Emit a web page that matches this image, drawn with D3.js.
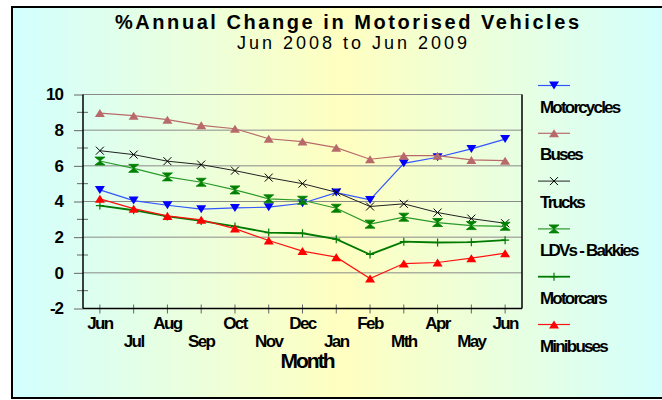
<!DOCTYPE html>
<html>
<head>
<meta charset="utf-8">
<script src="https://d3js.org/d3.v7.min.js"></script>
<style>
body { margin:0; padding:0; background:#fff; }
text { font-family: "Liberation Sans", Arial, sans-serif; font-weight:bold; fill:#000; }
</style>
</head>
<body>
<div id="chart"></div>
<script>
var months = ["Jun","Jul","Aug","Sep","Oct","Nov","Dec","Jan","Feb","Mth","Apr","May","Jun "];
var yTicks = [-2,0,2,4,6,8,10];

var motorcycles = [4.65,4.05,3.79,3.57,3.64,3.68,3.9,4.5,4.09,6.14,6.48,6.95,7.5];
var buses       = [8.96,8.81,8.59,8.27,8.08,7.52,7.36,7.02,6.37,6.57,6.57,6.33,6.29];
var trucks      = [6.85,6.63,6.26,6.07,5.73,5.34,5.0,4.52,3.72,3.87,3.38,3.04,2.78];
var ldvs        = [6.27,5.86,5.38,5.08,4.65,4.15,4.07,3.62,2.73,3.12,2.82,2.65,2.61];
var motorcars   = [3.77,3.51,3.16,2.91,2.6,2.26,2.22,1.89,1.03,1.75,1.7,1.72,1.83];
var minibuses   = [4.15,3.6,3.19,2.97,2.48,1.81,1.22,0.88,-0.32,0.52,0.58,0.82,1.1];

var seriesNames = ["Motorcycles","Buses","Trucks","LDVs - Bakkies","Motorcars","Minibuses"];
var seriesVals = [motorcycles,buses,trucks,ldvs,motorcars,minibuses];
var lineCols = ["#3355ff","#b86a6a","#222222","#2a9a2a","#007a00","#ff1010"];
var markCols = ["#0000ff","#b86a6a","#000000","#008000","#007a00","#ff0000"];
var lineW = [1.2,1.2,1,1.2,1.8,1.2];
var markers = ["down","up","x","hour","plus","up"];

function drawMarker(g, type, col) {
    if (type == "down") {
        g.append("path").attr("d","M-5,-4L5,-4L0,4Z").attr("fill",col);
    } else if (type == "up") {
        g.append("path").attr("d","M-5,4L5,4L0,-4Z").attr("fill",col);
    } else if (type == "x") {
        g.append("path").attr("d","M-4,-4L4,4M-4,4L4,-4").attr("stroke",col).attr("stroke-width",1).attr("fill","none");
    } else if (type == "hour") {
        g.append("path").attr("d","M-5,-4L5,-4L0,0ZM-5,4L5,4L0,0Z").attr("fill",col).attr("stroke",col).attr("stroke-width",0.8);
    } else if (type == "plus") {
        g.append("path").attr("d","M-4,0L4,0M0,-4L0,4").attr("stroke",col).attr("stroke-width",1.2).attr("fill","none");
    }
}

function draw_chart() {
    var W = 662, H = 400;
    var svg = d3.select("#chart").append("svg").attr("width",W).attr("height",H);

    // background gradient cyan -> yellow -> cyan
    var grad = svg.append("defs").append("linearGradient").attr("id","bg")
        .attr("x1","0%").attr("x2","100%").attr("y1","0%").attr("y2","0%");
    grad.append("stop").attr("offset","0%").attr("stop-color","#d2ffff");
    grad.append("stop").attr("offset","50%").attr("stop-color","#ffffc0");
    grad.append("stop").attr("offset","100%").attr("stop-color","#d2ffff");

    svg.append("rect").attr("x",12).attr("y",7).attr("width",660).attr("height",391)
        .attr("fill","url(#bg)").attr("stroke","#000").attr("stroke-width",2);

    var pL = 83, pR = 522, pT = 94.5, pB = 308.5;

    var x = d3.scalePoint().domain(months).range([pL,pR]).padding(0.5);
    var y = d3.scaleLinear().domain([-2,10]).range([pB,pT]);

    // gridlines
    svg.append("g").selectAll("line").data(yTicks).enter().append("line")
        .attr("x1",pL).attr("x2",pR)
        .attr("y1",function(d){return y(d);}).attr("y2",function(d){return y(d);})
        .attr("stroke","#8a8a8a").attr("stroke-width",1);

    // y axis
    var yAxis = d3.axisLeft(y).tickValues(yTicks).tickSize(9).tickPadding(11)
        .tickFormat(function(d){return String(d);});
    var gy = svg.append("g").attr("transform","translate("+pL+",0)").call(yAxis);
    gy.select(".domain").remove();
    gy.selectAll(".tick line").attr("stroke","#666");
    gy.selectAll("text").style("font-size","17px").style("letter-spacing","-1px")
        .style("font-family","Liberation Sans, Arial").style("font-weight","bold").attr("fill","#000");
    // minor ticks
    svg.append("g").selectAll("line").data([-1,1,3,5,7,9]).enter().append("line")
        .attr("x1",pL-6).attr("x2",pL+5)
        .attr("y1",function(d){return y(d);}).attr("y2",function(d){return y(d);})
        .attr("stroke","#666");

    // x ticks crossing axis
    svg.append("g").selectAll("line").data(months).enter().append("line")
        .attr("x1",function(d){return x(d);}).attr("x2",function(d){return x(d);})
        .attr("y1",pB-4).attr("y2",pB+5).attr("stroke","#666");

    // plot frame
    svg.append("line").attr("x1",pL).attr("x2",pL).attr("y1",pT).attr("y2",pB).attr("stroke","#000").attr("stroke-width",1.5);
    svg.append("line").attr("x1",pR).attr("x2",pR).attr("y1",pT).attr("y2",pB).attr("stroke","#000").attr("stroke-width",1.5);
    svg.append("line").attr("x1",pL).attr("x2",pR).attr("y1",pB).attr("y2",pB).attr("stroke","#000").attr("stroke-width",1.5);

    // staggered x labels
    svg.append("g").selectAll("text").data(months).enter().append("text")
        .attr("x",function(d){return x(d);})
        .attr("y",function(d,i){return i%2==0 ? 329 : 347;})
        .attr("text-anchor","middle")
        .style("font-size","17px").style("letter-spacing","-1.6px")
        .text(function(d){return d.trim();});

    svg.append("text").attr("x",307).attr("y",368).attr("text-anchor","middle")
        .style("font-size","21px").style("letter-spacing","-2px").text("Month");

    // titles
    svg.append("text").attr("x",346).attr("y",29).attr("text-anchor","middle")
        .style("font-size","20px").style("letter-spacing","-2px")
        .attr("textLength",462).attr("lengthAdjust","spacing")
        .text("%Annual Change in Motorised Vehicles");
    svg.append("text").attr("x",351).attr("y",49).attr("text-anchor","middle")
        .style("font-size","18px").style("font-weight","normal").style("letter-spacing","-2px")
        .attr("textLength",228).attr("lengthAdjust","spacing")
        .text("Jun 2008 to Jun 2009");

    var line = d3.line()
        .x(function(d,i){return x(months[i]);})
        .y(function(d){return y(d);});

    for (var s = 0; s < seriesVals.length; s++) {
        var data = seriesVals[s];
        svg.append("path").datum(data).attr("d",line)
            .attr("fill","none").attr("stroke",lineCols[s]).attr("stroke-width",lineW[s]);
        for (var i = 0; i < data.length; i++) {
            var g = svg.append("g").attr("transform","translate("+x(months[i])+","+y(data[i])+")");
            drawMarker(g, markers[s], markCols[s]);
        }
    }

    // legend
    var legY0 = 85.5, legStep = 47.8;
    for (var s = 0; s < seriesNames.length; s++) {
        var ly = legY0 + s*legStep;
        svg.append("line").attr("x1",538).attr("x2",570).attr("y1",ly).attr("y2",ly)
            .attr("stroke",lineCols[s]).attr("stroke-width",lineW[s]);
        var lg = svg.append("g").attr("transform","translate(554,"+ly+")");
        drawMarker(lg, markers[s], markCols[s]);
        svg.append("text").attr("x",540).attr("y",ly+27)
            .style("font-size","17px").style("letter-spacing","-1.8px")
            .text(seriesNames[s]);
    }
}

draw_chart();
</script>
</body>
</html>
